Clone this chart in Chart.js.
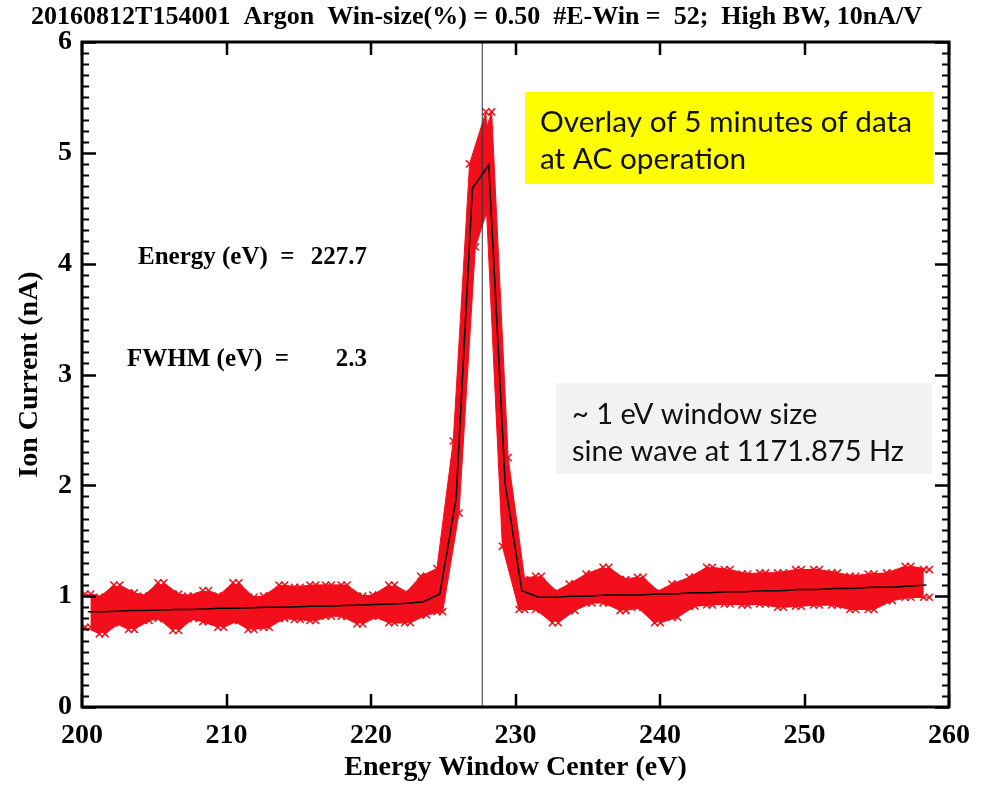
<!DOCTYPE html>
<html><head><meta charset="utf-8">
<script src="https://cdn.jsdelivr.net/npm/chart.js@4.4.1/dist/chart.umd.min.js"></script>
<style>html,body{margin:0;padding:0;background:#fff}#wrap{width:982px;height:787px;position:relative}</style>
</head><body><div id="wrap"><canvas id="c" width="982" height="787"></canvas></div>
<script>
// ---- data ----
const chartTitle = '20160812T154001  Argon  Win-size(%) = 0.50  #E-Win =  52;  High BW, 10nA/V';
const energyWindows = [200.40,201.40,202.41,203.42,204.44,205.46,206.49,207.52,208.56,209.60,
  210.65,211.70,212.76,213.83,214.90,215.97,217.05,218.14,219.23,220.32,
  221.43,222.53,223.64,224.76,225.89,227.02,228.15,229.29,230.44,231.59,
  232.75,233.91,235.08,236.26,237.44,238.63,239.82,241.02,242.22,243.43,
  244.65,245.87,247.10,248.34,249.58,250.83,252.08,253.34,254.61,255.88,
  257.16,258.44];
const meanCurrent = [0.86,0.86,0.865,0.87,0.87,0.875,0.88,0.88,0.885,0.89,
  0.89,0.895,0.90,0.90,0.905,0.91,0.91,0.915,0.92,0.925,
  0.93,0.935,0.95,1.02,1.88,4.68,4.89,2.01,1.05,0.99,
  0.99,1.00,1.00,1.01,1.01,1.01,1.02,1.02,1.03,1.03,
  1.04,1.04,1.05,1.05,1.06,1.06,1.07,1.07,1.08,1.08,
  1.09,1.10];
const upperCurrent = [1.02,0.99,1.10,1.03,1.00,1.12,1.02,1.00,1.05,1.00,
  1.12,0.99,1.00,1.10,1.08,1.10,1.10,1.10,1.00,1.01,
  1.10,1.02,1.18,1.25,2.40,4.90,5.37,2.25,1.15,1.18,
  1.03,1.11,1.20,1.26,1.15,1.17,1.03,1.11,1.17,1.26,
  1.24,1.20,1.21,1.21,1.24,1.24,1.21,1.18,1.20,1.21,
  1.27,1.24];
const lowerCurrent = [0.72,0.66,0.76,0.70,0.78,0.80,0.69,0.80,0.77,0.72,
  0.78,0.70,0.72,0.80,0.79,0.78,0.82,0.82,0.75,0.82,
  0.76,0.76,0.83,0.86,1.75,4.15,4.60,1.45,0.88,0.88,
  0.76,0.87,0.94,0.94,0.87,0.90,0.76,0.81,0.91,0.92,
  0.93,0.92,0.93,0.90,0.91,0.92,0.92,0.88,0.88,0.96,
  0.99,0.99];
const xTicks = [200,210,220,230,240,250,260];
const yTicks = [0,1,2,3,4,5,6];
const peakEnergy = 227.7;
const peakFwhm = 2.3;
const noteYellow = ['Overlay of 5 minutes of data','at AC operation'];
const noteGray = ['~ 1 eV window size','sine wave at 1171.875 Hz'];

// ---- styling ----
const RED = 'rgb(242,14,26)';
const SERIF = "'Liberation Serif','Times New Roman',serif";
const SANS = "Lato,'Open Sans',sans-serif";
const jitter = 0.2; // horizontal spread of the overlaid sweeps (eV)

const mc = document.createElement('canvas').getContext('2d');
function fitSize(text, font, target){ mc.font = '100px ' + font; return 100 * target / mc.measureText(text).width; }
const titleSize = Math.min(26, fitSize(chartTitle, "bold " + SERIF, 910));

const pts = (xs, ys, dx) => xs.map((x, i) => ({x: x + dx, y: ys[i]}));
const bandStyle = {borderColor: RED, backgroundColor: RED, borderWidth: 1, pointStyle: 'crossRot',
  pointRadius: 5, pointBorderWidth: 1.5, pointBorderColor: RED, tension: 0};

const framePlugin = {
  id: 'frame',
  afterDraw(chart){
    const ctx = chart.ctx, {left, right, top, bottom} = chart.chartArea;
    const xs = chart.scales.x, ys = chart.scales.y;
    ctx.save();
    ctx.strokeStyle = '#000';
    for (let k = 0; k <= 60; k++) {
      const y = Math.round(ys.getPixelForValue(k / 10)) + 0.5;
      const len = k % 10 === 0 ? 14 : 7;
      ctx.lineWidth = k % 10 === 0 ? 2.5 : 2;
      ctx.beginPath(); ctx.moveTo(left, y); ctx.lineTo(left + len, y);
      ctx.moveTo(right, y); ctx.lineTo(right - len, y); ctx.stroke();
    }
    ctx.lineWidth = 2.5;
    xTicks.forEach(v => {
      const x = Math.round(xs.getPixelForValue(v));
      ctx.beginPath(); ctx.moveTo(x, bottom); ctx.lineTo(x, bottom - 13);
      ctx.moveTo(x, top); ctx.lineTo(x, top + 13); ctx.stroke();
    });
    ctx.lineWidth = 3;
    ctx.strokeRect(left, top, right - left, bottom - top);
    ctx.restore();
  }
};

const notesPlugin = {
  id: 'notes',
  afterDatasetsDraw(chart){
    const ctx = chart.ctx;
    ctx.save();
    ctx.fillStyle = '#FFFF00';
    ctx.fillRect(525, 92, 408, 92);
    let fs = fitSize(noteYellow[0], SANS, 372);
    ctx.fillStyle = '#111'; ctx.font = fs + 'px ' + SANS; ctx.textBaseline = 'alphabetic'; ctx.textAlign = 'left';
    ctx.fillText(noteYellow[0], 540, 132);
    ctx.fillText(noteYellow[1], 540, 169);
    ctx.fillStyle = '#F2F2F2';
    ctx.fillRect(556, 383, 376, 91);
    fs = fitSize(noteGray[1], SANS, 332);
    ctx.fillStyle = '#111'; ctx.font = fs + 'px ' + SANS;
    ctx.fillText(noteGray[0], 572, 424);
    ctx.fillText(noteGray[1], 572, 461);
    ctx.fillStyle = '#000'; ctx.font = 'bold 25px ' + SERIF;
    ctx.textAlign = 'left';
    ctx.fillText('Energy (eV)  =', 138, 264);
    ctx.fillText('FWHM (eV)  =', 127, 366);
    ctx.textAlign = 'right';
    ctx.fillText(peakEnergy.toFixed(1), 367, 264);
    ctx.fillText(peakFwhm.toFixed(1), 367, 366);
    ctx.restore();
  }
};

Chart.defaults.color = '#000';
new Chart(document.getElementById('c'), {
  type: 'line',
  data: {
    datasets: [
      {label: 'mean', data: pts(energyWindows, meanCurrent, 0), borderColor: '#000', borderWidth: 1.5, pointRadius: 0, fill: false, order: 0},
      {label: 'peak', data: [{x: peakEnergy, y: 0}, {x: peakEnergy, y: 6}], borderColor: '#333', borderWidth: 1, pointRadius: 0, fill: false, order: 1},
      Object.assign({label: 'sweepTL', data: pts(energyWindows, upperCurrent, -jitter), fill: '+1', order: 2}, bandStyle),
      Object.assign({label: 'sweepBR', data: pts(energyWindows, lowerCurrent, jitter), fill: false, order: 3}, bandStyle),
      Object.assign({label: 'sweepTR', data: pts(energyWindows, upperCurrent, jitter), fill: '+1', order: 4}, bandStyle),
      Object.assign({label: 'sweepBL', data: pts(energyWindows, lowerCurrent, -jitter), fill: false, order: 5}, bandStyle)
    ]
  },
  options: {
    responsive: false, animation: false, devicePixelRatio: 1,
    layout: {padding: {left: 0, right: 29, top: 0, bottom: 0}},
    plugins: {
      legend: {display: false}, tooltip: {enabled: false},
      title: {display: true, text: chartTitle, color: '#000',
        font: {family: SERIF, weight: 'bold', size: titleSize, lineHeight: '29px'},
        padding: {top: 3, bottom: 10}}
    },
    scales: {
      x: {type: 'linear', min: 200, max: 260,
        afterBuildTicks: s => { s.ticks = xTicks.map(v => ({value: v})); },
        afterFit: s => { s.height = 80; },
        ticks: {font: {family: SERIF, weight: 'bold', size: 28}, padding: 12, maxRotation: 0},
        grid: {display: false, drawTicks: false}, border: {display: false},
        title: {display: true, text: 'Energy Window Center (eV)', color: '#000',
          font: {family: SERIF, weight: 'bold', size: 28}, padding: {top: 0, bottom: 2}}},
      y: {type: 'linear', min: 0, max: 6,
        afterBuildTicks: s => { s.ticks = yTicks.map(v => ({value: v})); },
        afterFit: s => { s.width = 82; },
        ticks: {font: {family: SERIF, weight: 'bold', size: 28}, padding: 10},
        grid: {display: false, drawTicks: false}, border: {display: false},
        title: {display: true, text: 'Ion Current (nA)', color: '#000',
          font: {family: SERIF, weight: 'bold', size: 28}, padding: {top: 13, bottom: 0}}}
    }
  },
  plugins: [notesPlugin, framePlugin]
});
</script></body></html>
